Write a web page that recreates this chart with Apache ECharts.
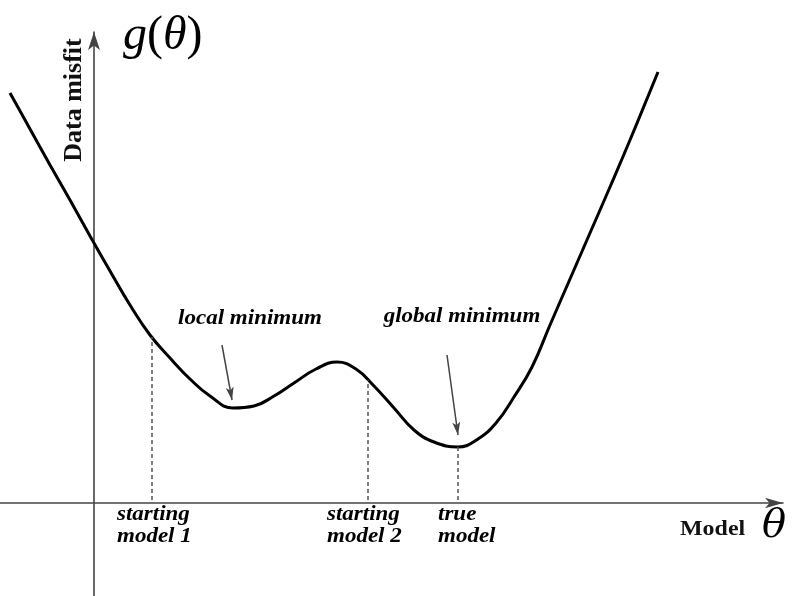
<!DOCTYPE html>
<html>
<head>
<meta charset="utf-8">
<script src="https://cdn.jsdelivr.net/npm/echarts@6/dist/echarts.min.js"></script>
<style>
  html, body { margin: 0; padding: 0; background: #fff; }
  #chart { width: 793px; height: 596px; }
</style>
</head>
<body>
<div id="chart"></div>
<script>
// Misfit function g(theta) sampled along the model axis
const theta = [-8.4, -6.4, -4.4, -2.4, -0.4, 1.6, 3.6, 5.6, 7.6, 9.6, 11.6, 13.9, 16.0, 18.0,
  20.0, 22.2, 24.3, 26.2, 28.0, 30.0, 32.0, 34.0, 36.4, 38.4, 40.2, 42.0, 43.8, 45.6,
  47.6, 49.6, 51.6, 53.6, 56.4];
const misfit = [41.0, 37.4, 33.8, 30.3, 26.7, 23.2, 19.8, 16.8, 14.5, 12.4, 10.7, 9.5, 9.7, 10.7,
  12.0, 13.4, 14.1, 13.4, 11.7, 9.5, 7.3, 6.1, 5.6, 6.4, 8.0, 10.6, 13.6, 17.8,
  22.4, 27.0, 31.6, 36.3, 43.1];

// Reference models on the theta axis and their misfit values
const modelNames = ['starting\nmodel 1', 'starting\nmodel 2', 'true\nmodel'];
const modelTheta = [5.8, 27.4, 36.4];
const modelMisfit = [16.6, 12.3, 5.6];

// Minimum annotations: arrow start and arrow tip
const minNames = ['local minimum', 'global minimum'];
const arrowFrom = [[12.8, 15.8], [35.3, 14.8]];
const arrowTo = [[13.8, 10.3], [36.4, 6.8]];

const serif = '"Liberation Serif", "Times New Roman", serif';
const chart = echarts.init(document.getElementById('chart'), null, { renderer: 'canvas' });

chart.setOption({
  animation: false,
  grid: { left: 0, right: 10, top: 32, bottom: 0, containLabel: false },
  xAxis: {
    type: 'value', min: -9.4, max: 68.9,
    axisLine: { show: true, onZero: true, symbol: ['none', 'arrow'], symbolSize: [8, 18],
      lineStyle: { color: '#444', width: 1.6 } },
    axisTick: { show: false }, axisLabel: { show: false }, splitLine: { show: false }
  },
  yAxis: {
    type: 'value', min: -9.3, max: 47.1,
    axisLine: { show: true, onZero: true, symbol: ['none', 'arrow'], symbolSize: [9, 18],
      lineStyle: { color: '#444', width: 1.6 } },
    axisTick: { show: false }, axisLabel: { show: false }, splitLine: { show: false }
  },
  series: [
    {
      type: 'line',
      data: theta.map((t, i) => [t, misfit[i]]),
      smooth: 0.45,
      showSymbol: false,
      lineStyle: { color: '#000', width: 3 },
      markLine: {
        silent: true,
        animation: false,
        label: { show: false },
        data: [
          ...modelTheta.map((t, i) => [
            { coord: [t, 0.3], symbol: 'none', lineStyle: { type: [4, 3], color: '#555', width: 1.5 } },
            { coord: [t, modelMisfit[i]], symbol: 'none' }
          ]),
          ...arrowFrom.map((p, i) => [
            { coord: p, symbol: 'none', lineStyle: { type: 'solid', color: '#444', width: 1.5 } },
            { coord: arrowTo[i], symbol: 'arrow', symbolSize: [6, 13] }
          ])
        ]
      }
    }
  ]
});

// Annotation text anchored to the data positions
const px = p => chart.convertToPixel({ gridIndex: 0 }, p);
const labelFont = { fontFamily: serif, fontStyle: 'italic', fontWeight: 'bold', fill: '#000' };
const modelShift = [-35, -41, -20];
const minShift = [[28, -27], [15, -39]];

const annotations = [];
modelTheta.forEach((t, i) => {
  const p = px([t, 0]);
  annotations.push({
    type: 'text', x: p[0] + modelShift[i], y: p[1] + 1, scaleX: 1.15,
    style: Object.assign({ text: modelNames[i], align: 'left', verticalAlign: 'top',
      fontSize: 20, lineHeight: 22 }, labelFont)
  });
});
arrowFrom.forEach((a, i) => {
  const p = px(a);
  annotations.push({
    type: 'text', x: p[0] + minShift[i][0], y: p[1] + minShift[i][1], scaleX: 1.07,
    style: Object.assign({ text: minNames[i], align: 'center', verticalAlign: 'middle',
      fontSize: 21.5 }, labelFont)
  });
});

chart.setOption({
  graphic: annotations.concat([
    {
      type: 'text', left: 123, top: 12,
      style: {
        text: '{it|g}{up|(}{it|θ}{up|)}',
        rich: {
          it: { fontFamily: serif, fontStyle: 'italic', fontSize: 48, fill: '#000' },
          up: { fontFamily: serif, fontSize: 48, fill: '#000' }
        }
      }
    },
    {
      type: 'text', x: 74, y: 100, rotation: Math.PI / 2,
      style: {
        text: 'Data misfit', align: 'center', verticalAlign: 'middle',
        fontFamily: serif, fontWeight: 'bold', fontSize: 26, fill: '#111'
      }
    },
    {
      type: 'text', x: 680, y: 530, scaleX: 1.14,
      style: {
        text: 'Model', align: 'left', verticalAlign: 'middle',
        fontFamily: serif, fontWeight: 'bold', fontSize: 21, fill: '#111'
      }
    },
    {
      type: 'text', x: 762, y: 527,
      style: {
        text: 'θ', align: 'left', verticalAlign: 'middle',
        fontFamily: '"DejaVu Serif", serif', fontStyle: 'italic', fontSize: 40, fill: '#000'
      }
    }
  ])
});
</script>
</body>
</html>
